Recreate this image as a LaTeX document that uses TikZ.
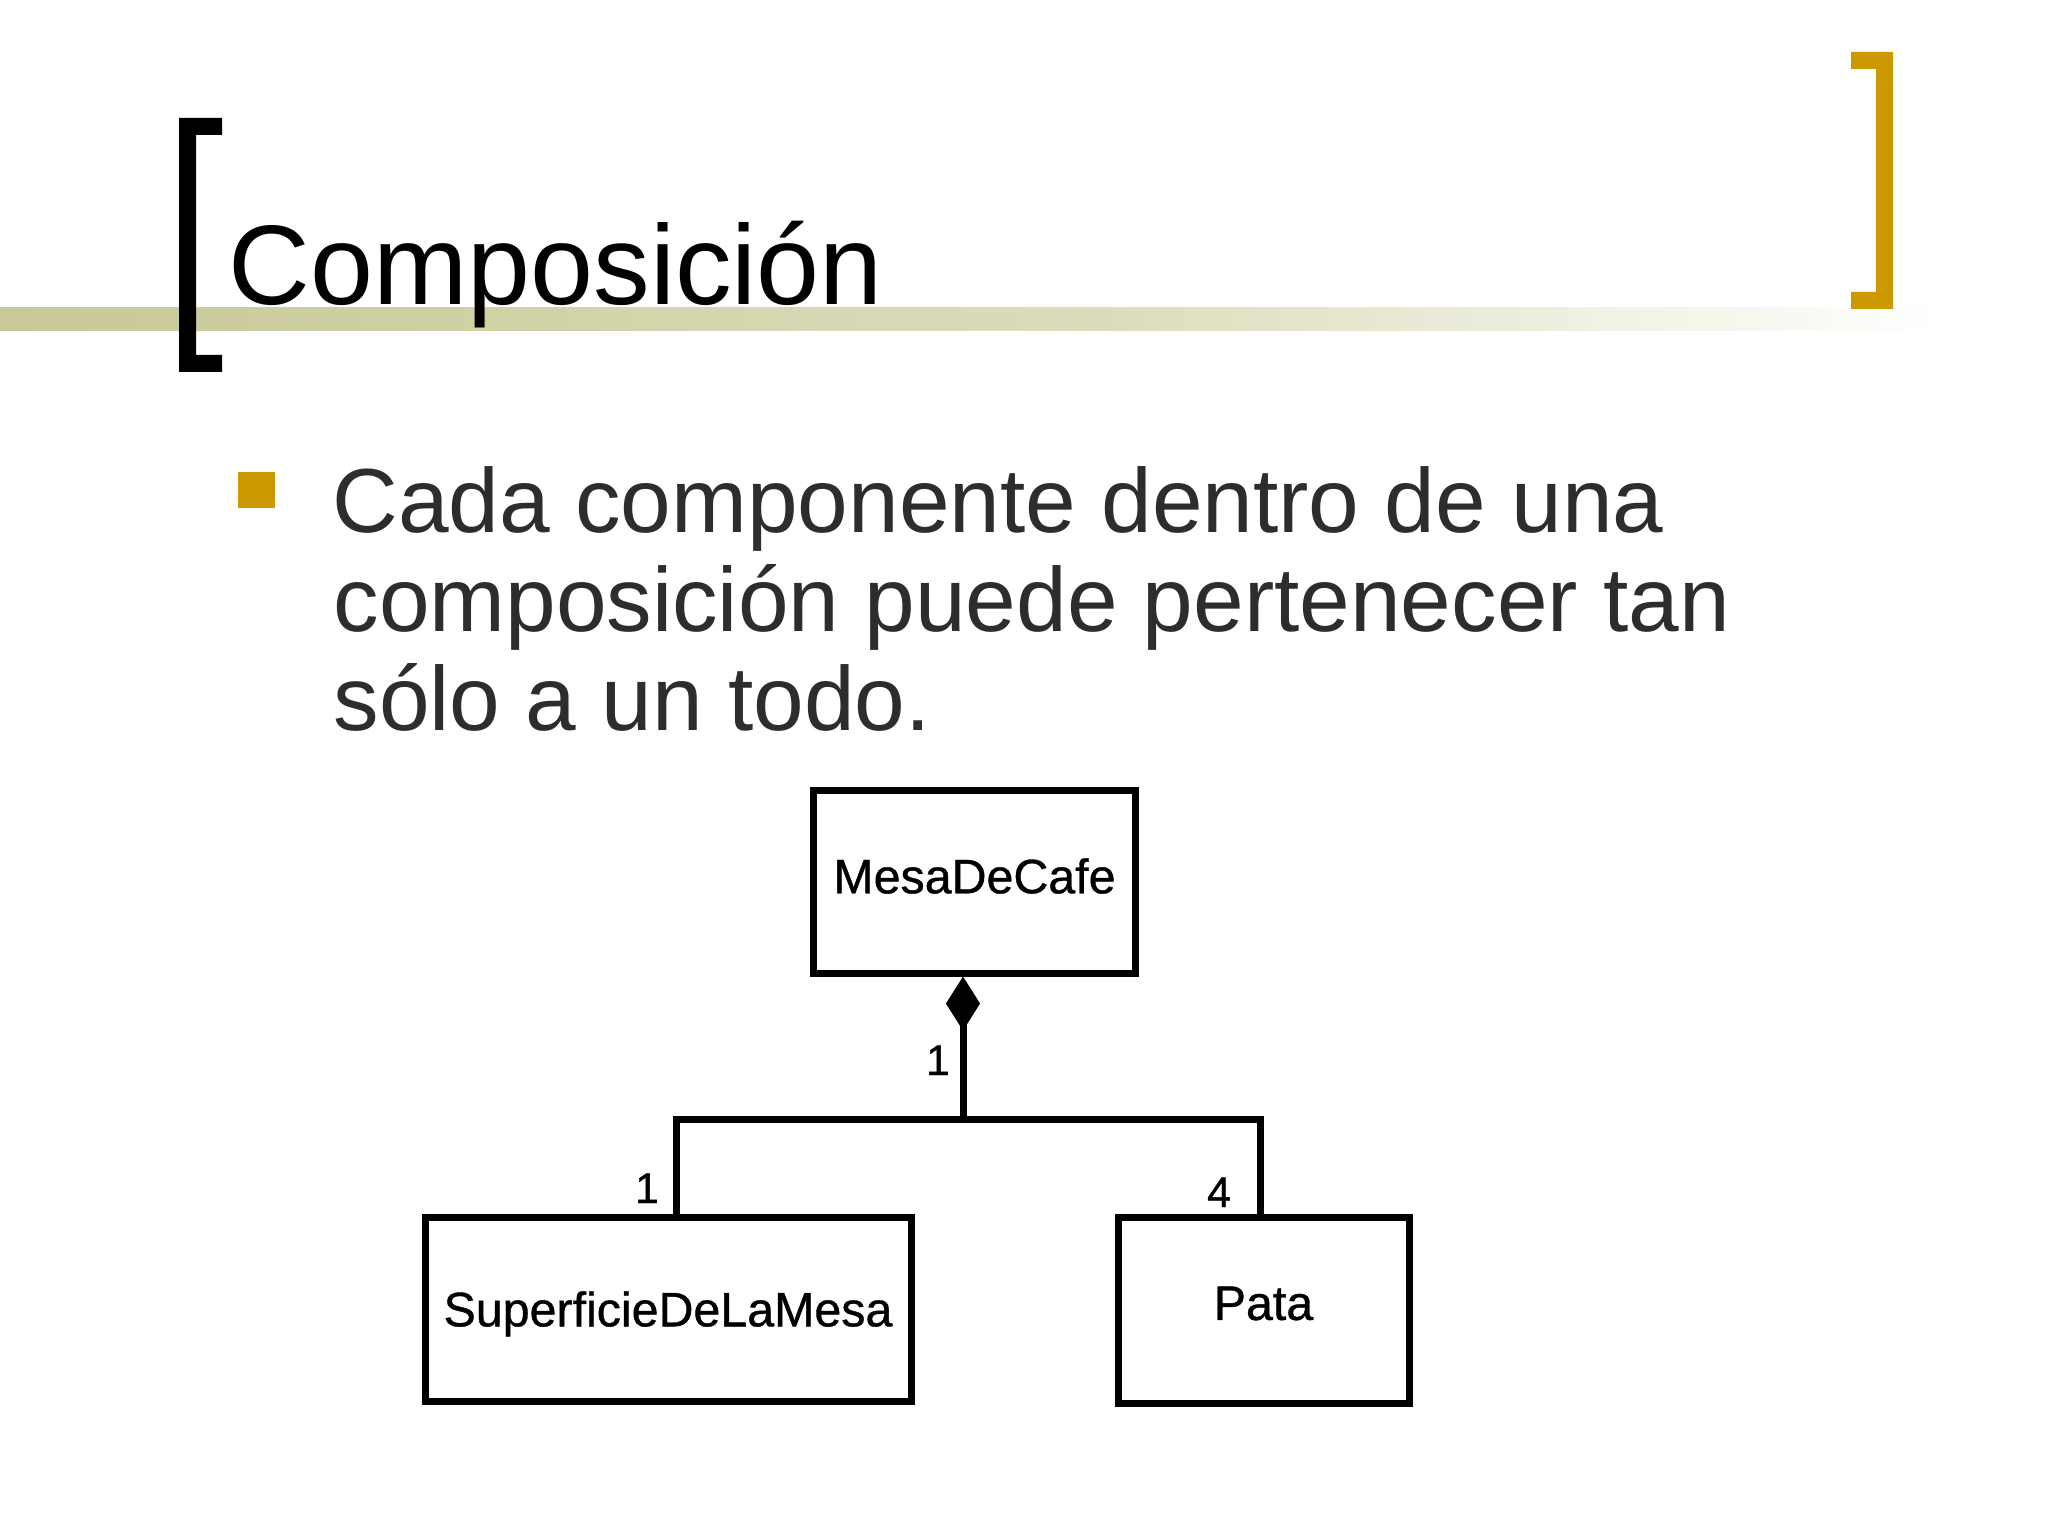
\documentclass[tikz,border=0pt]{standalone}
\usepackage{fontspec}
\setmainfont{Liberation Sans}
\newfontfamily\umlfont[FakeBold=0.8]{Liberation Sans}
\usetikzlibrary{arrows.meta}
\definecolor{gold}{RGB}{204,153,0}
\definecolor{barL}{RGB}{200,200,152}
\definecolor{barM}{RGB}{220,220,188}
\definecolor{bodytext}{RGB}{45,45,45}
\def\pxu{0.3515625pt}
\tikzset{
  umlbox/.style={draw=black, line width=2.46pt, inner sep=0pt, fill=white,
    font=\umlfont\fontsize{17}{20}\selectfont, text height=12.17pt},
  conn/.style={draw=black, line width=2.46pt, line join=miter},
  mult/.style={inner sep=0pt, anchor=base, font=\umlfont\fontsize{15}{18}\selectfont},
  bodyline/.style={inner sep=0pt, anchor=base west, text=bodytext,
    font=\fontsize{32}{35}\selectfont},
}
\begin{document}
\begin{tikzpicture}[x=\pxu,y=-\pxu]
\useasboundingbox (0,0) rectangle (2048,1536);
% gradient bar
\shade[left color=barL, right color=barM] (0,308) rectangle (1100,331);
\shade[left color=barM, right color=white] (1099,308) rectangle (1940,331);
% left black bracket
\fill[black] (179,118) -- (222,118) -- (222,135) -- (196,135) -- (196,355)
  -- (222,355) -- (222,372) -- (179,372) -- cycle;
% right gold bracket
\fill[gold] (1893,52) -- (1851,52) -- (1851,69) -- (1876,69) -- (1876,292)
  -- (1851,292) -- (1851,309) -- (1893,309) -- cycle;
% title
\node[anchor=base west, inner sep=0pt, font=\fontsize{39.8}{42}\selectfont]
  (title) at (228,305) {Composición};
% bullet
\fill[gold] (238,472) rectangle (275,508);
\node[bodyline] (l1) at (332,533) {Cada componente dentro de una};
\node[bodyline] (l2) at (333,632) {composición puede pertenecer tan};
\node[bodyline] (l3) at (333,730) {sólo a un todo.};
% UML boxes
\node[umlbox, minimum width=322*\pxu, minimum height=183*\pxu, text depth=3.9pt]
  (mesa) at (974.5,881.5) {MesaDeCafe};
\node[umlbox, minimum width=486*\pxu, minimum height=184*\pxu, text depth=0pt]
  (sup) at (668,1309) {SuperficieDeLaMesa};
\node[umlbox, minimum width=291*\pxu, minimum height=186*\pxu, text depth=5.2pt]
  (pata) at (1263.5,1310) {Pata};
% junction points
\coordinate (j) at (963,1119);
\coordinate (jl) at (676,1119);
\coordinate (jr) at (1260,1119);
% connectors
\draw[conn, {Diamond[length=19pt 0 0, width=12pt 0 0]}-] (j |- mesa.south) -- (j);
\draw[conn] (jl |- sup.north) -- (jl) -- (jr) -- (jr |- pata.north);
% multiplicities
\node[mult] (m0) at (938,1075) {1};
\node[mult] (m1) at (647,1203) {1};
\node[mult] (m4) at (1219,1207) {4};
\end{tikzpicture}
\end{document}
